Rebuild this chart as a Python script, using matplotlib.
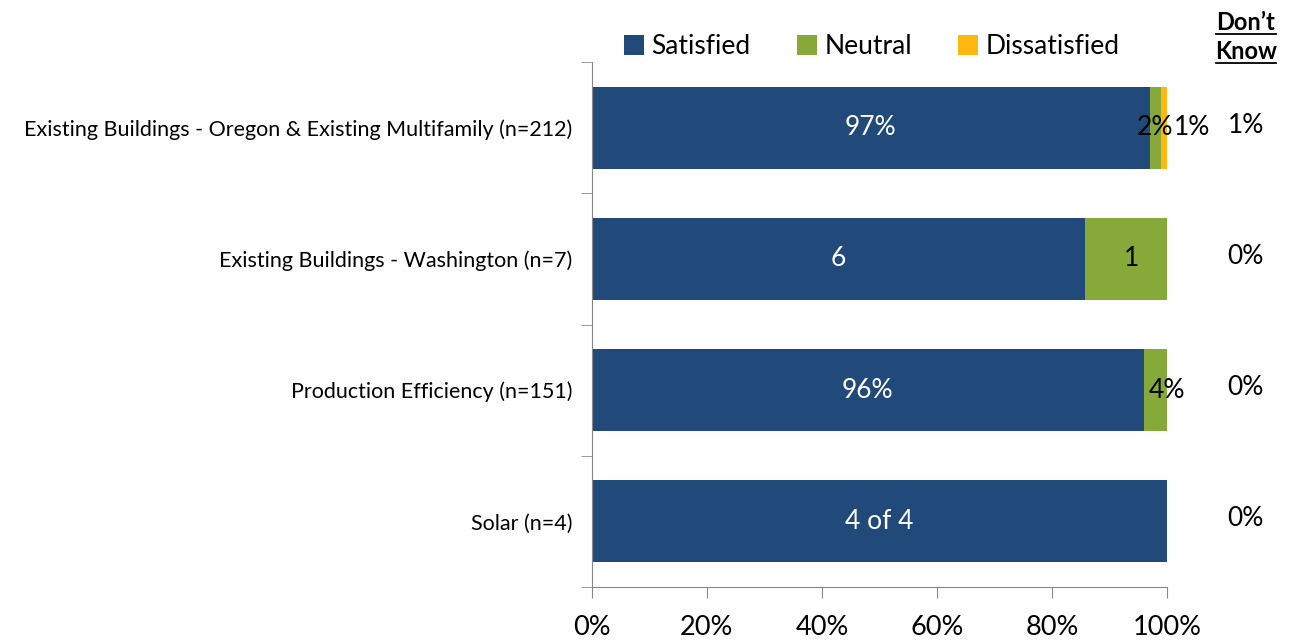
import matplotlib.pyplot as plt
import numpy as np

plt.rcParams['font.family'] = ['Lato', 'DejaVu Sans']

categories = ['Existing Buildings - Oregon & Existing Multifamily (n=212)',
              'Existing Buildings - Washington (n=7)',
              'Production Efficiency (n=151)',
              'Solar (n=4)']
satisfied = [97, 6 / 7 * 100, 96, 100]
neutral = [2, 1 / 7 * 100, 4, 0]
dissatisfied = [1, 0, 0, 0]
sat_labels = ['97%', '6', '96%', '4 of 4']
neu_labels = ['2%', '1', '4%', '']
dis_labels = ['1%', '', '', '']
dont_know = ['1%', '0%', '0%', '0%']

BLUE = '#214A7B'
GREEN = '#86A93A'
ORANGE = '#FFB80F'


def main():
    fig = plt.figure(figsize=(12.93, 6.44), dpi=100)
    ax = fig.add_axes([0.4578, 0.0885, 0.4447, 0.8152])

    y = np.arange(len(categories))
    sat = np.array(satisfied) / 100
    neu = np.array(neutral) / 100
    dis = np.array(dissatisfied) / 100

    h = 0.625
    ax.barh(y, sat, height=h, color=BLUE, label='Satisfied')
    ax.barh(y, neu, left=sat, height=h, color=GREEN, label='Neutral')
    ax.barh(y, dis, left=sat + neu, height=h, color=ORANGE, label='Dissatisfied')

    fs = 19
    for i in range(len(categories)):
        ax.text(sat[i] / 2, y[i], sat_labels[i], color='white', fontsize=fs,
                ha='center', va='center')
        if neu_labels[i]:
            # small segments: Excel lets the label hang past the bar
            if neu[i] > 0.1:
                xpos = sat[i] + neu[i] / 2 + 0.01
            elif i == 0:
                xpos = sat[i] + 0.009
            else:
                xpos = sat[i] + 0.04
            ax.text(xpos, y[i], neu_labels[i], color='black', fontsize=fs,
                    ha='center', va='center', clip_on=False)
        if dis_labels[i]:
            ax.text(1.043, y[i], dis_labels[i], color='black', fontsize=fs,
                    ha='center', va='center', clip_on=False)
        ax.text(1.137, y[i] - 0.02, dont_know[i], color='black', fontsize=fs,
                ha='center', va='center', clip_on=False)

    ax.text(1.137, -0.8, "Don\u2019t", fontsize=17, fontweight='bold',
            ha='center', va='center', clip_on=False)
    ax.text(1.137, -0.58, "Know", fontsize=17, fontweight='bold',
            ha='center', va='center', clip_on=False)
    ax.plot([1.085, 1.19], [-0.715, -0.715], color='black', lw=1.3, clip_on=False)
    ax.plot([1.085, 1.19], [-0.495, -0.495], color='black', lw=1.3, clip_on=False)

    ax.set_xlim(0, 1)
    ax.set_ylim(3.5, -0.5)
    ax.set_yticks(y)
    ax.set_yticklabels(categories, fontsize=15.5)
    ax.set_yticks(np.arange(-0.5, 4, 1), minor=True)
    ax.tick_params(axis='y', which='major', length=0, pad=14)
    ax.tick_params(axis='y', which='minor', length=8, color='#888888', direction='out')
    ax.set_xticks(np.linspace(0, 1, 6))
    ax.set_xticklabels(['0%', '20%', '40%', '60%', '80%', '100%'], fontsize=19.5)
    ax.tick_params(axis='x', length=8, color='#888888', pad=12)
    for s in ['top', 'right']:
        ax.spines[s].set_visible(False)
    for s in ['left', 'bottom']:
        ax.spines[s].set_color('#888888')

    ax.legend(loc='center', bbox_to_anchor=(0.487, 1.029), ncol=3, frameon=False,
              fontsize=19, handlelength=0.75, handleheight=0.75, handletextpad=0.3,
              columnspacing=1.75, borderaxespad=0.0)

    fig.savefig('out.png', dpi=100)


if __name__ == '__main__':
    main()
